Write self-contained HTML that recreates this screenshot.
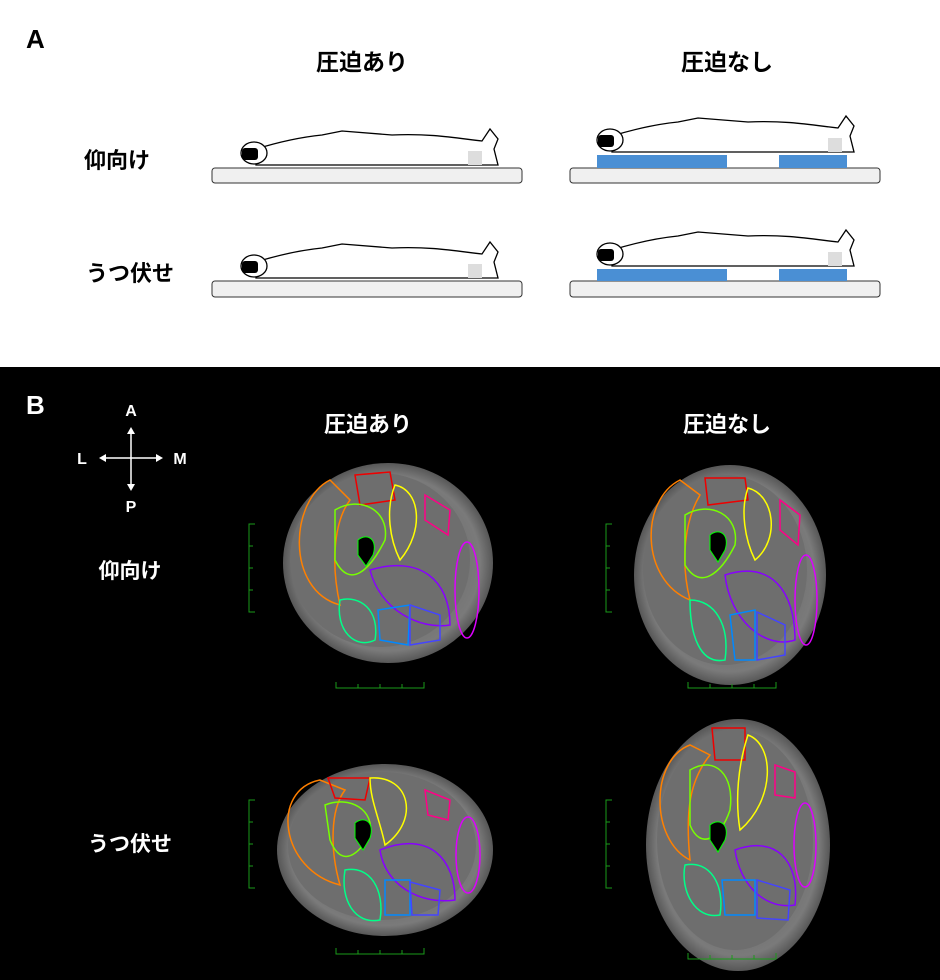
<!DOCTYPE html>
<html><head><meta charset="utf-8"><style>
html,body{margin:0;padding:0;background:#fff}
svg{display:block}
text{font-family:"Liberation Sans","Noto Sans CJK JP",sans-serif;font-weight:bold}
</style></head><body>
<svg width="940" height="980" viewBox="0 0 940 980" xmlns="http://www.w3.org/2000/svg">
<defs>
<radialGradient id="g1" cx="50%" cy="50%" r="55%">
<stop offset="0" stop-color="#5a5a5a"/><stop offset="0.8" stop-color="#7a7a7a"/><stop offset="1" stop-color="#3a3a3a"/>
</radialGradient>
<g id="person">
<path d="M14,-4 C40,-12 60,-16 80,-18 L100,-22 L150,-18 C190,-20 220,-14 240,-12 L248,-24 L256,-14 L252,-4 L256,12 L14,12 Z" fill="#fff" stroke="#000" stroke-width="1.3"/>
<ellipse cx="12" cy="0" rx="13" ry="11" fill="#fff" stroke="#000" stroke-width="1.3"/>
<rect x="0" y="-5" width="16" height="12" rx="3" fill="#000"/>
</g>
</defs>
<rect x="0" y="0" width="940" height="367" fill="#fff"/>
<rect x="0" y="367" width="940" height="613" fill="#000"/>

<text x="26" y="48" font-size="26">A</text>
<text x="362" y="70" font-size="23" text-anchor="middle">圧迫あり</text>
<text x="727" y="70" font-size="23" text-anchor="middle">圧迫なし</text>
<text x="117" y="168" font-size="22" text-anchor="middle">仰向け</text>
<text x="130" y="281" font-size="22" text-anchor="middle">うつ伏せ</text>

<rect x="212" y="168" width="310" height="15" rx="3" fill="#f0f0f0" stroke="#333" stroke-width="1"/>
<rect x="570" y="168" width="310" height="15" rx="3" fill="#f0f0f0" stroke="#333" stroke-width="1"/>
<rect x="212" y="281" width="310" height="16" rx="3" fill="#f0f0f0" stroke="#333" stroke-width="1"/>
<rect x="570" y="281" width="310" height="16" rx="3" fill="#f0f0f0" stroke="#333" stroke-width="1"/>
<rect x="597" y="155" width="130" height="13" fill="#4a8fd4"/>
<rect x="779" y="155" width="68" height="13" fill="#4a8fd4"/>
<rect x="597" y="269" width="130" height="12" fill="#4a8fd4"/>
<rect x="779" y="269" width="68" height="12" fill="#4a8fd4"/>

<use href="#person" x="242" y="153"/>
<use href="#person" x="598" y="140"/>
<use href="#person" x="242" y="266"/>
<use href="#person" x="598" y="254"/>
<rect x="468" y="151" width="14" height="14" fill="#ddd"/>
<rect x="828" y="138" width="14" height="14" fill="#ddd"/>
<rect x="468" y="264" width="14" height="14" fill="#ddd"/>
<rect x="828" y="252" width="14" height="14" fill="#ddd"/>

<text x="26" y="414" font-size="26" fill="#fff">B</text>
<g fill="#fff" font-size="16" text-anchor="middle">
<text x="131" y="416">A</text><text x="82" y="464">L</text><text x="180" y="464">M</text><text x="131" y="512">P</text>
</g>
<g stroke="#fff" stroke-width="1.5">
<line x1="131" y1="430" x2="131" y2="488"/><line x1="102" y1="458" x2="160" y2="458"/>
</g>
<g fill="#fff"><path d="M131,427 l-4,7 h8z"/><path d="M131,491 l-4,-7 h8z"/><path d="M99,458 l7,-4 v8z"/><path d="M163,458 l-7,-4 v8z"/></g>
<text x="368" y="432" font-size="22" fill="#fff" text-anchor="middle">圧迫あり</text>
<text x="727" y="432" font-size="22" fill="#fff" text-anchor="middle">圧迫なし</text>
<text x="130" y="578" font-size="21" fill="#fff" text-anchor="middle">仰向け</text>
<text x="130" y="851" font-size="21" fill="#fff" text-anchor="middle">うつ伏せ</text>

<g>
<ellipse cx="388" cy="563" rx="105" ry="100" fill="url(#g1)"/>
<ellipse cx="380" cy="560" rx="90" ry="87" fill="#6e6e6e"/>
<path d="M330,480 C290,500 285,590 340,605 C330,560 335,520 350,500Z" fill="none" stroke="#ff8000" stroke-width="1.5"/>
<path d="M355,475 L390,472 L395,500 L360,505Z" fill="none" stroke="#e00" stroke-width="1.5"/>
<path d="M395,485 C420,490 425,530 400,560 C390,540 385,510 395,485Z" fill="none" stroke="#ff0" stroke-width="1.5"/>
<path d="M335,510 C360,495 390,510 385,540 C370,570 350,590 335,560Z" fill="none" stroke="#7f0" stroke-width="1.5"/>
<path d="M425,495 L450,510 L448,535 L425,520Z" fill="none" stroke="#f08" stroke-width="1.5"/>
<ellipse cx="467" cy="590" rx="12" ry="48" fill="none" stroke="#d0f" stroke-width="1.5"/>
<path d="M370,570 C420,555 450,580 450,625 C420,630 380,610 370,570Z" fill="none" stroke="#80f" stroke-width="1.5"/>
<path d="M340,600 C360,595 380,610 375,640 C355,650 335,630 340,600Z" fill="none" stroke="#0f8" stroke-width="1.5"/>
<path d="M378,610 L410,605 L408,645 L380,640Z" fill="none" stroke="#08f" stroke-width="1.5"/>
<path d="M410,605 L440,615 L440,640 L410,645Z" fill="none" stroke="#44f" stroke-width="1.5"/>
<path d="M358,540 C368,532 378,540 373,555 L366,566 L358,555Z" fill="#000" stroke="#0f0"/>
</g>
<g>
<ellipse cx="730" cy="575" rx="96" ry="110" fill="url(#g1)"/>
<ellipse cx="725" cy="570" rx="82" ry="95" fill="#6e6e6e"/>
<path d="M680,480 C640,500 640,580 690,600 C680,560 685,520 700,495Z" fill="none" stroke="#ff8000" stroke-width="1.5"/>
<path d="M705,478 L745,478 L748,500 L708,505Z" fill="none" stroke="#e00" stroke-width="1.5"/>
<path d="M748,488 C775,495 780,540 755,560 C745,540 740,510 748,488Z" fill="none" stroke="#ff0" stroke-width="1.5"/>
<path d="M685,515 C710,500 740,515 735,545 C720,575 700,590 685,565Z" fill="none" stroke="#7f0" stroke-width="1.5"/>
<path d="M780,500 L800,515 L798,545 L780,530Z" fill="none" stroke="#f08" stroke-width="1.5"/>
<ellipse cx="806" cy="600" rx="11" ry="45" fill="none" stroke="#d0f" stroke-width="1.5"/>
<path d="M725,575 C770,560 795,590 795,640 C765,650 730,620 725,575Z" fill="none" stroke="#80f" stroke-width="1.5"/>
<path d="M690,600 C715,600 730,625 725,660 C700,665 690,635 690,600Z" fill="none" stroke="#0f8" stroke-width="1.5"/>
<path d="M730,615 L755,610 L755,660 L735,660Z" fill="none" stroke="#08f" stroke-width="1.5"/>
<path d="M757,612 L785,625 L785,655 L757,660Z" fill="none" stroke="#44f" stroke-width="1.5"/>
<path d="M710,535 C720,527 730,535 725,550 L718,562 L710,550Z" fill="#000" stroke="#0f0"/>
</g>
<g>
<ellipse cx="385" cy="850" rx="108" ry="86" fill="url(#g1)"/>
<ellipse cx="382" cy="846" rx="94" ry="74" fill="#6e6e6e"/>
<path d="M320,780 C270,790 280,870 340,885 C330,850 330,810 345,790Z" fill="none" stroke="#ff8000" stroke-width="1.5"/>
<path d="M328,778 L370,778 L365,800 L335,798Z" fill="none" stroke="#e00" stroke-width="1.5"/>
<path d="M370,778 C410,775 420,820 385,845 C380,820 370,800 370,778Z" fill="none" stroke="#ff0" stroke-width="1.5"/>
<path d="M325,805 C350,795 375,810 370,835 C355,860 340,865 330,840Z" fill="none" stroke="#7f0" stroke-width="1.5"/>
<path d="M425,790 L450,800 L448,820 L428,815Z" fill="none" stroke="#f08" stroke-width="1.5"/>
<ellipse cx="468" cy="855" rx="12" ry="38" fill="none" stroke="#d0f" stroke-width="1.5"/>
<path d="M380,850 C430,830 455,860 455,900 C420,905 385,885 380,850Z" fill="none" stroke="#80f" stroke-width="1.5"/>
<path d="M345,870 C370,865 385,890 380,920 C355,925 340,900 345,870Z" fill="none" stroke="#0f8" stroke-width="1.5"/>
<path d="M385,880 L410,880 L410,915 L385,915Z" fill="none" stroke="#08f" stroke-width="1.5"/>
<path d="M410,882 L440,890 L438,915 L412,915Z" fill="none" stroke="#44f" stroke-width="1.5"/>
<path d="M355,823 C365,815 375,823 370,838 L363,850 L355,838Z" fill="#000" stroke="#0f0"/>
</g>
<g>
<ellipse cx="738" cy="845" rx="92" ry="126" fill="url(#g1)"/>
<ellipse cx="735" cy="840" rx="78" ry="110" fill="#6e6e6e"/>
<path d="M690,745 C650,760 650,840 690,860 C685,810 690,780 710,755Z" fill="none" stroke="#ff8000" stroke-width="1.5"/>
<path d="M712,728 L745,728 L745,760 L715,760Z" fill="none" stroke="#e00" stroke-width="1.5"/>
<path d="M748,735 C775,745 775,800 740,830 C735,800 738,765 748,735Z" fill="none" stroke="#ff0" stroke-width="1.5"/>
<path d="M690,770 C715,755 735,775 730,810 C720,840 700,850 690,825Z" fill="none" stroke="#7f0" stroke-width="1.5"/>
<path d="M775,765 L795,772 L795,798 L775,795Z" fill="none" stroke="#f08" stroke-width="1.5"/>
<ellipse cx="805" cy="845" rx="11" ry="42" fill="none" stroke="#d0f" stroke-width="1.5"/>
<path d="M735,850 C775,835 800,860 795,905 C765,910 740,885 735,850Z" fill="none" stroke="#80f" stroke-width="1.5"/>
<path d="M685,865 C710,860 725,885 720,915 C695,920 680,890 685,865Z" fill="none" stroke="#0f8" stroke-width="1.5"/>
<path d="M722,880 L755,880 L755,915 L725,915Z" fill="none" stroke="#08f" stroke-width="1.5"/>
<path d="M757,880 L790,890 L788,920 L757,918Z" fill="none" stroke="#44f" stroke-width="1.5"/>
<path d="M710,825 C720,817 730,825 725,840 L718,852 L710,840Z" fill="#000" stroke="#0f0"/>
</g>

<g stroke="#1a9a1a" stroke-width="1" fill="none">
<path d="M255,524 h-6 v88 h6 M249,546 h4 M249,568 h4 M249,590 h4"/>
<path d="M612,524 h-6 v88 h6 M606,546 h4 M606,568 h4 M606,590 h4"/>
<path d="M255,800 h-6 v88 h6 M249,822 h4 M249,844 h4 M249,866 h4"/>
<path d="M612,800 h-6 v88 h6 M606,822 h4 M606,844 h4 M606,866 h4"/>
<path d="M336,682 v6 h88 v-6 M358,688 v-4 M380,688 v-4 M402,688 v-4"/>
<path d="M688,682 v6 h88 v-6 M710,688 v-4 M732,688 v-4 M754,688 v-4"/>
<path d="M336,948 v6 h88 v-6 M358,954 v-4 M380,954 v-4 M402,954 v-4"/>
<path d="M688,953 v6 h88 v-6 M710,959 v-4 M732,959 v-4 M754,959 v-4"/>
</g>
</svg>
</body></html>
